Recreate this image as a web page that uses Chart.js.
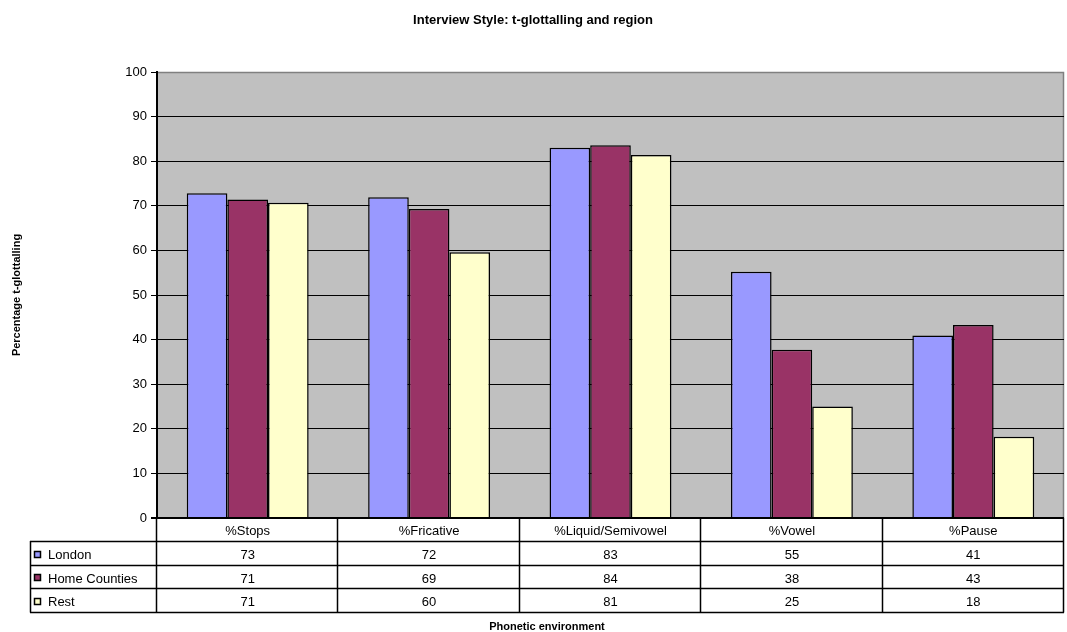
<!DOCTYPE html>
<html>
<head>
<meta charset="utf-8">
<script src="https://cdn.jsdelivr.net/npm/chart.js@4.4.0/dist/chart.umd.min.js"></script>
<style>
  html, body { margin: 0; padding: 0; background: #fff; }
  #wrap { position: relative; width: 1067px; height: 632px; }
</style>
</head>
<body>
<div id="wrap"><canvas id="chart" width="1067" height="632"></canvas></div>
<script>
// data
const categories = ['%Stops', '%Fricative', '%Liquid/Semivowel', '%Vowel', '%Pause']
const seriesNames = ['London', 'Home Counties', 'Rest']
const london = [72.8, 71.9, 83.0, 55.2, 40.9]
const homeCounties = [71.4, 69.3, 83.6, 37.7, 43.3]
const rest = [70.7, 59.6, 81.4, 25.0, 18.2]
const yTicks = [0, 10, 20, 30, 40, 50, 60, 70, 80, 90, 100]

const colors = ['#9999FF', '#993366', '#FFFFCC']
const FONT = '"Liberation Sans", Arial, sans-serif'

// gray plot background
const plotBg = {
   id: 'plotBg',
   beforeDraw(chart) {
      const {ctx, chartArea: a} = chart
      ctx.save()
      ctx.fillStyle = '#C0C0C0'
      ctx.fillRect(a.left, a.top, a.right - a.left, a.bottom - a.top)
      ctx.strokeStyle = '#808080'
      ctx.lineWidth = 1.5
      ctx.beginPath()
      ctx.moveTo(a.left, a.top + 0.5)
      ctx.lineTo(a.right - 0.5, a.top + 0.5)
      ctx.lineTo(a.right - 0.5, a.bottom)
      ctx.stroke()
      ctx.restore()
   }
}

// titles + data table under the plot
const dataTable = {
   id: 'dataTable',
   afterDraw(chart) {
      const {ctx, chartArea: a} = chart
      const xs = chart.scales.x
      const n = categories.length
      const colW = (a.right - a.left) / n
      const rowH = [23, 23.5, 23.5, 23.5]
      const tableLeft = 30
      const rowsY = [a.bottom]
      rowH.forEach(h => rowsY.push(rowsY[rowsY.length - 1] + h))
      const all = [london, homeCounties, rest]

      ctx.save()
      ctx.strokeStyle = '#000'
      ctx.lineWidth = 1.5
      ctx.beginPath()
      // horizontal lines
      for (let r = 1; r < rowsY.length; r++) {
         const y = Math.round(rowsY[r]) + 0.5
         ctx.moveTo(tableLeft, y)
         ctx.lineTo(a.right, y)
      }
      // vertical lines
      for (let c = 0; c <= n; c++) {
         const x = Math.round(a.left + c * colW) - 0.5
         ctx.moveTo(x, a.bottom)
         ctx.lineTo(x, rowsY[4] + 1)
      }
      ctx.moveTo(tableLeft + 0.5, rowsY[1])
      ctx.lineTo(tableLeft + 0.5, rowsY[4] + 1)
      ctx.stroke()
      // axis line
      ctx.lineWidth = 2
      ctx.beginPath()
      ctx.moveTo(a.left - 6, a.bottom)
      ctx.lineTo(a.right, a.bottom)
      ctx.stroke()

      ctx.fillStyle = '#000'
      ctx.font = '13px ' + FONT
      ctx.textAlign = 'center'
      ctx.textBaseline = 'middle'
      categories.forEach((cat, i) => {
         const cx = xs.getPixelForValue(i)
         ctx.fillText(cat, cx, (rowsY[0] + rowsY[1]) / 2 + 2)
         all.forEach((s, r) => {
            ctx.fillText(String(Math.round(s[i])), cx, (rowsY[r + 1] + rowsY[r + 2]) / 2 + 3)
         })
      })
      // legend keys in the first column
      ctx.textAlign = 'left'
      seriesNames.forEach((name, r) => {
         const cy = (rowsY[r + 1] + rowsY[r + 2]) / 2
         const ky = Math.round(cy - 2)
         ctx.fillStyle = colors[r]
         ctx.fillRect(34, ky, 7, 7)
         ctx.strokeStyle = '#000'
         ctx.lineWidth = 1.5
         ctx.strokeRect(34.5, ky + 0.5, 6, 6)
         ctx.fillStyle = '#000'
         ctx.fillText(name, 48, cy + 3)
      })

      // titles
      ctx.font = 'bold 13px ' + FONT
      ctx.textAlign = 'center'
      ctx.fillText('Interview Style: t-glottalling and region', 533, 20)
      ctx.font = 'bold 11px ' + FONT
      ctx.fillText('Phonetic environment', (tableLeft + a.right) / 2, 627)
      ctx.translate(17, (a.top + a.bottom) / 2)
      ctx.rotate(-Math.PI / 2)
      ctx.fillText('Percentage t-glottalling', 0, 0)
      ctx.restore()
   }
}

const ctx = document.getElementById('chart').getContext('2d')
new Chart(ctx, {
   type: 'bar',
   data: {
      labels: categories,
      datasets: [london, homeCounties, rest].map((d, i) => ({
         label: seriesNames[i],
         data: d,
         backgroundColor: colors[i],
         borderColor: '#000',
         borderWidth: 1.5,
         borderSkipped: 'bottom',
         categoryPercentage: 0.672,
         barPercentage: 1
      }))
   },
   options: {
      responsive: false,
      animation: false,
      devicePixelRatio: 1,
      layout: { padding: { left: 0, right: 3, top: 72, bottom: 114 } },
      plugins: {
         legend: { display: false },
         title: { display: false },
         tooltip: { enabled: false }
      },
      scales: {
         x: {
            display: false,
            offset: true
         },
         y: {
            min: 0,
            max: 100,
            afterFit(scale) { scale.width = 157 },
            afterBuildTicks(scale) { scale.ticks = yTicks.map(v => ({value: v})) },
            border: { display: true, color: '#000', width: 2 },
            grid: {
               color: c => c.tick.value === 100 ? 'rgba(0,0,0,0)' : '#000',
               lineWidth: 1,
               tickLength: 6,
               tickColor: '#000'
            },
            ticks: {
               color: '#000',
               font: { family: FONT, size: 13 },
               padding: 4
            }
         }
      }
   },
   plugins: [plotBg, dataTable]
})
</script>
</body>
</html>
